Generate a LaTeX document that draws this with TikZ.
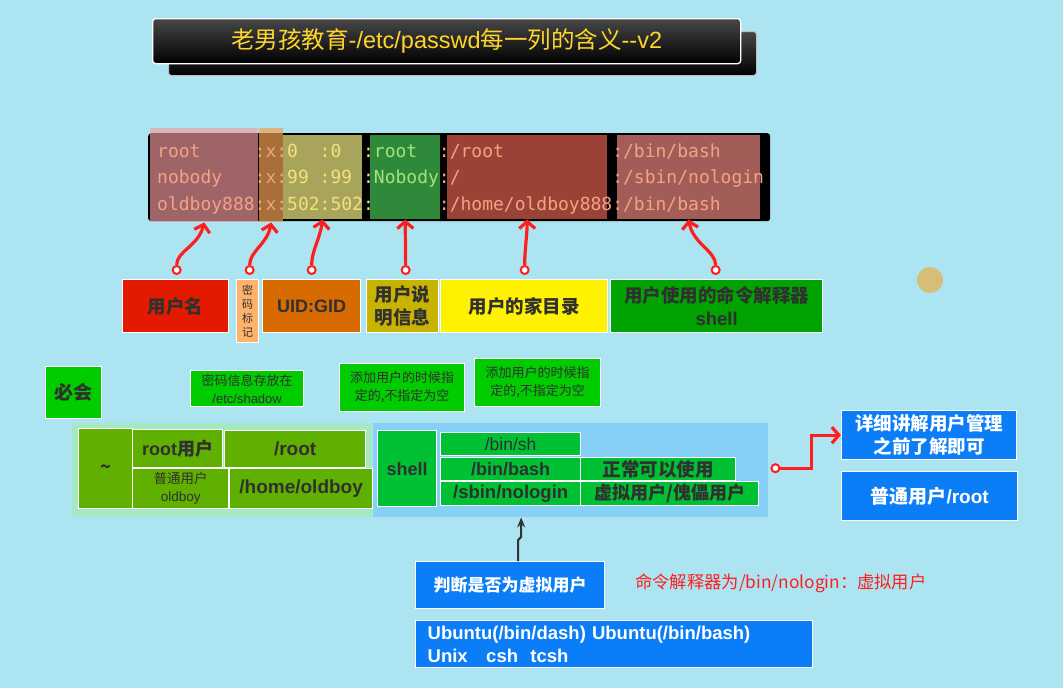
\documentclass[tikz,border=0pt]{standalone}
\usepackage{fontspec}
\setmainfont{Liberation Sans}
\setmonofont{DejaVu Sans Mono}
\newfontfamily\cjk{Noto Sans CJK SC}
\usetikzlibrary{arrows.meta,calc}
\definecolor{bgc}{HTML}{ADE4F1}
\definecolor{rd}{HTML}{FF1E1E}
\definecolor{txt}{HTML}{303030}
\definecolor{sal}{HTML}{F4A283}
\definecolor{yel}{HTML}{F2E27A}
\definecolor{lgr}{HTML}{A6E27A}
\definecolor{ttl}{HTML}{FFD52A}
\definecolor{blu}{HTML}{0A7DF7}
\definecolor{ngr}{HTML}{00CC00}
\definecolor{olg}{HTML}{5FB000}
\definecolor{shg}{HTML}{00C133}
\newlength\mc
\setlength\mc{10.836pt}
\newcommand\fld[3]{\makebox[#1\mc][l]{\textcolor{#2}{#3}}}
\newcommand\bx[7]{\node[#6,anchor=north west,minimum width={(#4-#2)*1pt},minimum height={(#5-#3)*1pt},inner sep=0pt] (#1) at (#2,#3) {#7};}
\newcommand\fs[2]{\fontsize{#1}{#2}\selectfont}
\begin{document}
\begin{tikzpicture}[x=1pt,y=-1pt,
  tbox/.style={rounded corners=3pt,top color={black!72!white},bottom color=black,draw=white!75!black,line width=1pt},
  lab/.style={draw=white,line width=1.3pt,text=txt,align=center,font=\cjk\bfseries\fs{18.5}{23}},
  note/.style={fill=ngr,draw=white,line width=1.3pt,text=txt,align=center,font=\cjk\fs{13}{18}},
  cell/.style={fill=olg,draw=white,line width=1.3pt,text=txt,align=center,font=\cjk\bfseries\fs{18}{20}},
  scell/.style={fill=shg,draw=white,line width=1.3pt,text=txt,align=center,font=\cjk\fs{17}{19}},
  bbox/.style={fill=blu,draw=white,line width=1.3pt,text=white,align=center,font=\cjk\bfseries\fs{18.5}{23}},
  dot/.style={circle,draw=rd,fill=white,line width=2pt,minimum size=8pt,inner sep=0pt},
  rarrow/.style={draw=rd,line width=3.2pt,-{Straight Barb[length=7pt,width=16pt]}},
  trow/.style={anchor=base west,inner sep=0pt,font=\ttfamily\fs{18}{20}},
]
\fill[bgc] (0,0) rectangle (1063,688);
\useasboundingbox (0,0) rectangle (1063,688);
% title
\bx{tback}{168}{31}{756}{75}{tbox}{}
\bx{title}{152}{18}{740}{63}{tbox,draw=white,line width=1.3pt,text=ttl,font=\cjk\fs{23.5}{26}}{老男孩教育{\rmfamily -/etc/passwd}每一列的含义{\rmfamily -{}-v2}}
% terminal
\bx{term}{148}{133}{770}{221}{fill=black,rounded corners=3pt}{}
\bx{cuid}{283}{135}{362}{219}{fill={rgb,255:red,169;green,164;blue,92}}{}
\bx{ccom}{370}{135}{440}{219}{fill={rgb,255:red,46;green,138;blue,58}}{}
\bx{chome}{447}{135}{607}{219}{fill={rgb,255:red,155;green,66;blue,54}}{}
\bx{cshell}{617}{135}{760}{219}{fill={rgb,255:red,163;green,93;blue,88}}{}
\bx{cname}{150}{128}{258}{222}{fill={rgb,255:red,245;green,155;blue,160},fill opacity=0.65}{}
\bx{cx}{259}{128}{283}{222}{fill={rgb,255:red,240;green,160;blue,80},fill opacity=0.7}{}
\node[trow] (row1) at (157,157) {\fld{9}{sal}{root}\fld{1}{sal}{:}\fld{1}{sal}{x}\fld{1}{sal}{:}\fld{3}{yel}{0}\fld{1}{yel}{:}\fld{3}{yel}{0}\fld{1}{yel}{:}\fld{6}{lgr}{root}\fld{1}{sal}{:}\fld{15}{sal}{/root}\fld{1}{sal}{:}\fld{13}{sal}{/bin/bash}};
\node[trow] (row2) at (157,183.5) {\fld{9}{sal}{nobody}\fld{1}{sal}{:}\fld{1}{sal}{x}\fld{1}{sal}{:}\fld{3}{yel}{99}\fld{1}{yel}{:}\fld{3}{yel}{99}\fld{1}{yel}{:}\fld{6}{lgr}{Nobody}\fld{1}{sal}{:}\fld{15}{sal}{/}\fld{1}{sal}{:}\fld{13}{sal}{/sbin/nologin}};
\node[trow] (row3) at (157,210) {\fld{9}{sal}{oldboy888}\fld{1}{sal}{:}\fld{1}{sal}{x}\fld{1}{sal}{:}\fld{3}{yel}{502}\fld{1}{yel}{:}\fld{3}{yel}{502}\fld{1}{yel}{:}\fld{6}{lgr}{}\fld{1}{sal}{:}\fld{15}{sal}{/home/oldboy888}\fld{1}{sal}{:}\fld{13}{sal}{/bin/bash}};
% labels
\bx{l1}{122}{279}{228}{332}{lab,fill={rgb,255:red,227;green,26;blue,0}}{用户名}
\bx{l2}{236}{279}{258}{342}{lab,fill={rgb,255:red,255;green,178;blue,107},font=\cjk\fs{11}{14}}{密\\码\\标\\记}
\bx{l3}{262}{279}{360}{332}{lab,fill={rgb,255:red,216;green,107;blue,0},font=\bfseries\fs{18}{20}}{UID:GID}
\bx{l4}{366}{279}{438}{332}{lab,fill={rgb,255:red,200;green,180;blue,0}}{用户说\\明信息}
\bx{l5}{440}{279}{607}{332}{lab,fill={rgb,255:red,255;green,242;blue,0}}{用户的家目录}
\bx{l6}{610}{279}{822}{332}{lab,fill={rgb,255:red,0;green,163;blue,0}}{用户使用的命令解释器\\{\rmfamily shell}}
% red arrows
\node[dot] (o1) at ($(l1.north)+(1,-9)$) {};
\node[dot] (o2) at ($(l2.north)+(2,-9)$) {};
\node[dot] (o3) at ($(l3.north)+(0,-9)$) {};
\node[dot] (o4) at ($(l4.north)+(3,-9)$) {};
\node[dot] (o5) at ($(l5.north)+(0.5,-9)$) {};
\node[dot] (o6) at ($(l6.north)+(-1,-9)$) {};
\draw[rarrow] (o1.north) .. controls +(0,-14) and +(-6,24) .. (cname.south);
\draw[rarrow] (o2.north) .. controls +(0,-14) and +(-4,22) .. (cx.south);
\draw[rarrow] (o3.north) .. controls +(0,-14) and +(-3,20) .. (cuid.south);
\draw[rarrow] (o4.north) -- (ccom.south);
\draw[rarrow] (o5.north) .. controls +(0,-14) and +(0,14) .. (chome.south);
\draw[rarrow] (o6.north) .. controls +(0,-14) and +(4,24) .. (cshell.south);
% cursor mark
\node[circle,fill={rgb,255:red,214;green,190;blue,120},minimum size=26pt,inner sep=0pt] (cur) at (930,280) {};
% notes
\bx{must}{45}{366}{101}{418}{note,font=\cjk\bfseries\fs{19}{22}}{必会}
\bx{n1}{190}{370}{303}{406}{note}{密码信息存放在\\{\rmfamily /etc/shadow}}
\bx{n2}{339}{363}{464}{411}{note}{添加用户的时候指\\定的,不指定为空}
\bx{n3}{474}{358}{600}{406}{note}{添加用户的时候指\\定的,不指定为空}
% left group
\bx{lg}{72}{423}{372}{517}{fill={rgb,255:red,164;green,232;blue,196}}{}
\bx{tl}{78}{428}{132}{508}{cell}{\textasciitilde}
\bx{ru}{132}{429}{222}{467}{cell}{{\rmfamily root}用户}
\bx{rr}{224}{430}{365}{467}{cell,font=\bfseries\fs{19}{20}}{/root}
\bx{pu}{132}{468}{228}{508}{cell,font=\cjk\fs{13.5}{18}}{普通用户\\{\rmfamily oldboy}}
\bx{ho}{229}{468}{372}{508}{cell,font=\bfseries\fs{19}{20}}{/home/oldboy}
% right group
\bx{rg}{373}{423}{768}{517}{fill={rgb,255:red,134;green,207;blue,245}}{}
\bx{sh}{377}{430}{436}{506}{scell,font=\bfseries\fs{18}{20}}{shell}
\bx{s1}{440}{432}{580}{455}{scell,font=\fs{17.5}{19}}{/bin/sh}
\bx{s2}{440}{457}{580}{480}{scell,font=\bfseries\fs{18}{20}}{/bin/bash}
\bx{s2t}{580}{457}{735}{480}{scell,font=\cjk\bfseries\fs{18.5}{20}}{正常可以使用}
\bx{s3}{440}{481}{580}{505}{scell,font=\bfseries\fs{18.5}{20}}{/sbin/nologin}
\bx{s3t}{580}{481}{758}{505}{scell,font=\cjk\bfseries\fs{18}{20}}{虚拟用户/傀儡用户}
% blue boxes
\bx{det}{841}{410}{1016}{459}{bbox}{详细讲解用户管理\\之前了解即可}
\bx{nr}{841}{471}{1017}{520}{bbox,font=\cjk\bfseries\fs{19}{22}}{普通用户{\rmfamily /root}}
\node[dot] (o7) at ($(rg.east)+(7,-2)$) {};
\draw[rarrow] (o7.east) -- ++(31,0) |- (det.west);
\bx{judge}{415}{561}{604}{608}{bbox,font=\cjk\bfseries\fs{17}{22}}{判断是否为虚拟用户}
\draw[draw=black!80,line width=2pt,-{Stealth[length=10pt,width=8pt]}] ([xshift=8pt]judge.north) -- ++(0,-21) -- ++(3,-3) coordinate (k) -- (k |- rg.south);
\node[anchor=west,inner sep=0pt,text=rd,font=\cjk\fs{17.3}{19}] (note) at (635,583) {命令解释器为/bin/nologin：虚拟用户};
\bx{ub}{415}{620}{812}{667}{bbox,align=left,text width=373pt,font=\bfseries\fs{18.5}{23}}{Ubuntu(/bin/dash) Ubuntu(/bin/bash)\\Unix\ \ \ csh\ \ tcsh}
\end{tikzpicture}
\end{document}
